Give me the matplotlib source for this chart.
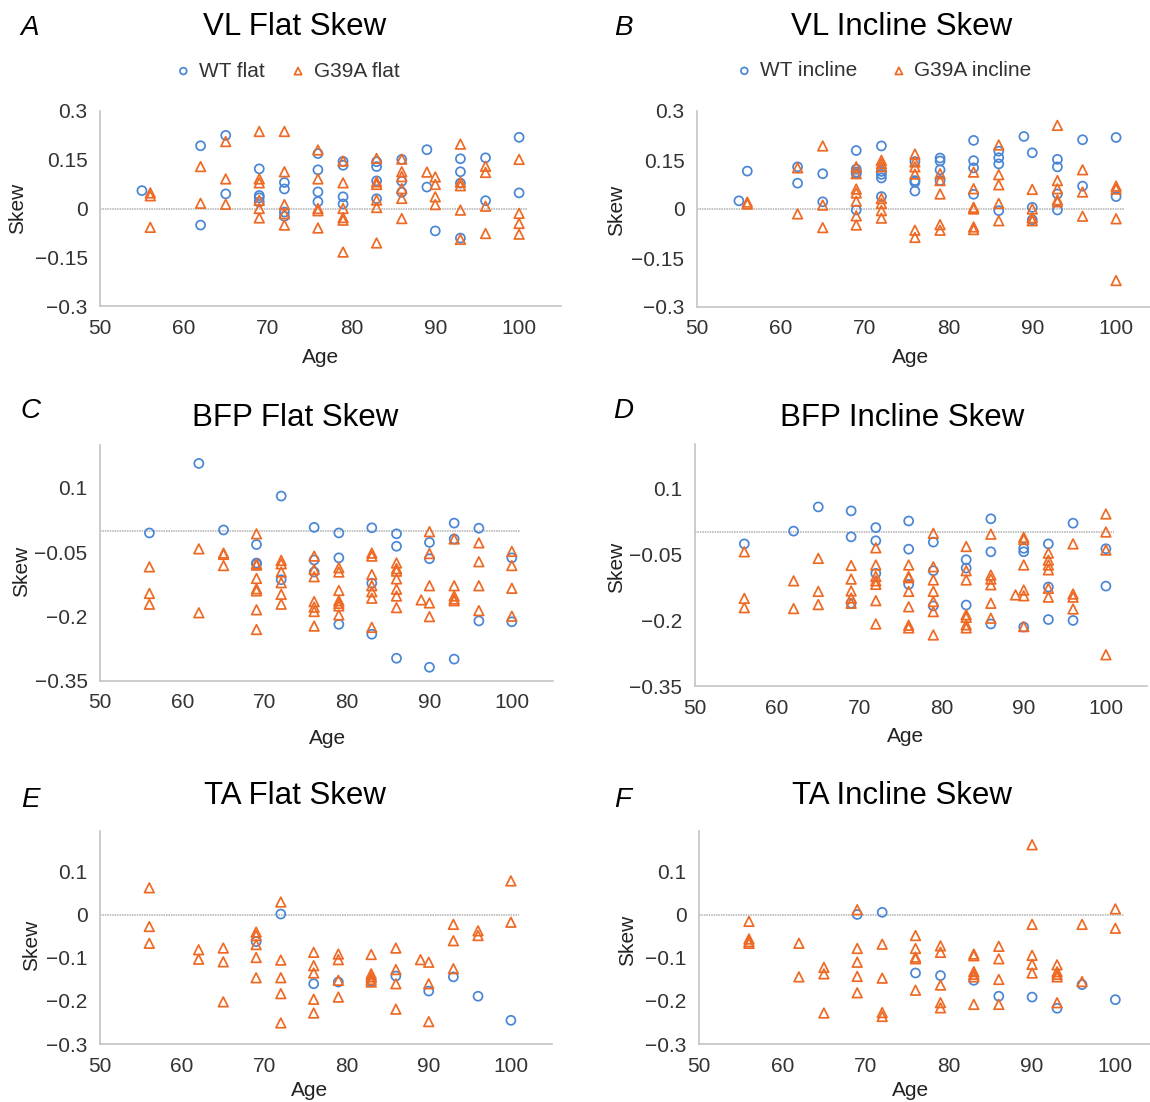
import numpy as np
import matplotlib
matplotlib.use("Agg")
import matplotlib.pyplot as plt
from matplotlib.ticker import FuncFormatter

plt.rcParams['font.family'] = ['Liberation Sans', 'DejaVu Sans']

W, H = 1150, 1102

# skew values read per age, {age: [skew, ...]}
vl_flat_wt = {55: [0.055], 62: [0.193, -0.051], 65: [0.225, 0.045],
              69: [0.122, 0.040, 0.033, 0.020], 72: [0.080, 0.060, -0.011, -0.024],
              76: [0.169, 0.119, 0.051, 0.021], 79: [0.145, 0.133, 0.036, 0.014],
              83: [0.144, 0.129, 0.085, 0.030], 86: [0.151, 0.084, 0.050],
              89: [0.181, 0.066], 90: [-0.069], 93: [0.153, 0.113, 0.078, -0.091],
              96: [0.156, 0.024], 100: [0.219, 0.048]}
vl_flat_g39a = {56: [0.048, 0.039, -0.058], 62: [0.129, 0.016], 65: [0.206, 0.091, 0.013],
                69: [0.237, 0.091, 0.079, 0.025, 0.0, -0.029],
                72: [0.237, 0.113, 0.012, -0.016, -0.051],
                76: [0.180, 0.091, 0.0, -0.007, -0.060],
                79: [0.146, 0.079, 0.0, -0.028, -0.036, -0.134],
                83: [0.154, 0.082, 0.074, 0.026, 0.003, -0.106],
                86: [0.152, 0.113, 0.098, 0.061, 0.031, -0.031],
                89: [0.112], 90: [0.097, 0.074, 0.036, 0.012],
                93: [0.198, 0.081, 0.070, -0.005, -0.095],
                96: [0.130, 0.111, 0.007, -0.077], 100: [0.151, -0.015, -0.046, -0.079]}

vl_incl_wt = {55: [0.025], 56: [0.116], 62: [0.129, 0.079], 65: [0.108, 0.022],
              69: [0.179, 0.122, 0.113, 0.108, -0.003],
              72: [0.193, 0.115, 0.106, 0.095, 0.038],
              76: [0.145, 0.087, 0.082, 0.055], 79: [0.156, 0.147, 0.120, 0.087],
              83: [0.210, 0.148, 0.126, 0.045], 86: [0.177, 0.157, 0.138, -0.005],
              89: [0.222], 90: [0.172, 0.005, -0.033],
              93: [0.152, 0.129, 0.046, -0.003], 96: [0.212, 0.070], 100: [0.219, 0.038]}
vl_incl_g39a = {56: [0.021, 0.015], 62: [0.126, -0.015], 65: [0.193, 0.012, -0.057],
                69: [0.129, 0.108, 0.061, 0.049, 0.024, -0.021, -0.049],
                72: [0.149, 0.139, 0.129, 0.032, 0.017, -0.005, -0.028],
                76: [0.168, 0.144, 0.129, 0.107, -0.065, -0.087],
                79: [0.108, 0.087, 0.046, -0.048, -0.065],
                83: [0.113, 0.062, 0.005, 0.0, -0.055, -0.063],
                86: [0.196, 0.105, 0.074, 0.017, -0.036],
                90: [0.060, 0.0, -0.027, -0.036],
                93: [0.256, 0.087, 0.062, 0.028, 0.022],
                96: [0.120, 0.052, -0.022], 100: [0.070, 0.061, -0.030, -0.219]}

bfp_flat_wt = {56: [-0.005], 62: [0.157], 65: [0.002], 69: [-0.032, -0.075, -0.077],
               72: [0.081, -0.114], 76: [0.008, -0.068, -0.096], 79: [-0.005, -0.063, -0.218],
               83: [0.007, -0.122, -0.241], 86: [-0.007, -0.036, -0.297],
               90: [-0.027, -0.065, -0.318], 93: [0.018, -0.019, -0.299],
               96: [0.006, -0.210], 100: [-0.063, -0.212]}
bfp_flat_g39a = {56: [-0.084, -0.146, -0.171], 62: [-0.042, -0.191], 65: [-0.052, -0.055, -0.081],
                 69: [-0.007, -0.077, -0.080, -0.111, -0.135, -0.140, -0.184, -0.230],
                 72: [-0.069, -0.077, -0.096, -0.121, -0.148, -0.171],
                 76: [-0.059, -0.090, -0.107, -0.165, -0.178, -0.188, -0.222],
                 79: [-0.086, -0.096, -0.139, -0.163, -0.169, -0.175, -0.196],
                 83: [-0.052, -0.059, -0.102, -0.128, -0.142, -0.157, -0.225],
                 86: [-0.075, -0.088, -0.094, -0.112, -0.136, -0.152, -0.179],
                 89: [-0.161], 90: [-0.002, -0.053, -0.128, -0.168, -0.200],
                 93: [-0.019, -0.128, -0.152, -0.159, -0.163],
                 96: [-0.028, -0.072, -0.128, -0.186], 100: [-0.048, -0.081, -0.134, -0.199]}

bfp_incl_wt = {56: [-0.027], 62: [0.002], 65: [0.057], 69: [0.048, -0.011, -0.162],
               72: [0.010, -0.020, -0.094], 76: [0.025, -0.039, -0.119],
               79: [-0.023, -0.088, -0.168], 83: [-0.063, -0.082, -0.166],
               86: [0.030, -0.045, -0.209], 90: [-0.037, -0.045, -0.216],
               93: [-0.027, -0.125, -0.199], 96: [0.020, -0.201], 100: [-0.038, -0.123]}
bfp_incl_g39a = {56: [-0.045, -0.151, -0.172], 62: [-0.111, -0.174], 65: [-0.060, -0.135, -0.165],
                 69: [-0.076, -0.107, -0.134, -0.150, -0.162],
                 72: [-0.036, -0.075, -0.101, -0.111, -0.119, -0.156, -0.209],
                 76: [-0.075, -0.101, -0.104, -0.135, -0.170, -0.212, -0.218],
                 79: [-0.003, -0.079, -0.109, -0.135, -0.158, -0.181, -0.234],
                 83: [-0.033, -0.088, -0.109, -0.188, -0.194, -0.211, -0.218],
                 86: [-0.005, -0.098, -0.107, -0.120, -0.162, -0.196],
                 89: [-0.143], 90: [-0.012, -0.017, -0.075, -0.132, -0.145, -0.215],
                 93: [-0.048, -0.064, -0.075, -0.086, -0.128, -0.148],
                 96: [-0.027, -0.141, -0.148, -0.175], 100: [0.041, 0.0, -0.041, -0.279]}

ta_flat_wt = {69: [-0.062], 72: [0.002], 76: [-0.160], 79: [-0.156], 83: [-0.154],
              86: [-0.142], 90: [-0.177], 93: [-0.144], 96: [-0.189], 100: [-0.245]}
ta_flat_g39a = {56: [0.063, -0.027, -0.066], 62: [-0.081, -0.103], 65: [-0.077, -0.109, -0.202],
                69: [-0.040, -0.048, -0.069, -0.099, -0.146],
                72: [0.030, -0.105, -0.146, -0.183, -0.251],
                76: [-0.087, -0.118, -0.135, -0.196, -0.228],
                79: [-0.091, -0.104, -0.152, -0.191],
                83: [-0.092, -0.137, -0.144, -0.150, -0.156],
                86: [-0.077, -0.127, -0.160, -0.219], 89: [-0.104],
                90: [-0.110, -0.160, -0.248], 93: [-0.022, -0.060, -0.125],
                96: [-0.037, -0.048], 100: [0.079, -0.017]}

ta_incl_wt = {69: [0.001], 72: [0.006], 76: [-0.135], 79: [-0.141], 83: [-0.152],
              86: [-0.189], 90: [-0.191], 93: [-0.217], 96: [-0.162], 100: [-0.197]}
ta_incl_g39a = {56: [-0.015, -0.056, -0.062, -0.066], 62: [-0.066, -0.144],
                65: [-0.122, -0.137, -0.228], 69: [0.012, -0.078, -0.110, -0.143, -0.181],
                72: [-0.068, -0.147, -0.227, -0.236],
                76: [-0.048, -0.078, -0.098, -0.102, -0.175],
                79: [-0.072, -0.087, -0.163, -0.204, -0.216],
                83: [-0.091, -0.095, -0.132, -0.138, -0.144, -0.208],
                86: [-0.073, -0.102, -0.150, -0.208],
                90: [0.163, -0.022, -0.094, -0.115, -0.135],
                93: [-0.116, -0.132, -0.138, -0.144, -0.204],
                96: [-0.022, -0.155], 100: [0.014, -0.031]}

titles = ["VL Flat Skew", "VL Incline Skew", "BFP Flat Skew",
          "BFP Incline Skew", "TA Flat Skew", "TA Incline Skew"]
letters = ["A", "B", "C", "D", "E", "F"]
x_ticks = [50, 60, 70, 80, 90, 100]
vl_ticks = [-0.3, -0.15, 0, 0.15, 0.3]
bfp_ticks = [-0.35, -0.2, -0.05, 0.1]
ta_ticks = [-0.3, -0.2, -0.1, 0, 0.1]

BLUE = '#4a86d6'
ORANGE = '#ee6a24'


def flat(d):
    xs, ys = [], []
    for age, vals in d.items():
        for v in vals:
            xs.append(age)
            ys.append(v)
    return np.array(xs), np.array(ys)


def fx(x):
    return x / W


def fy(y):
    return 1 - y / H


def fmt(v, pos):
    s = f"{round(v, 3):g}"
    if s == "-0":
        s = "0"
    return s.replace('-', '\u2212')


fig = plt.figure(figsize=(W / 100, H / 100), dpi=100)

# axes boxes in pixels: left, top, right, bottom
boxes = [(100, 111, 561, 306), (697, 111, 1158, 307),
         (100, 445, 553, 681), (695, 444, 1147, 686),
         (100, 831, 552, 1044), (699, 831, 1157, 1044)]
series = [(vl_flat_wt, vl_flat_g39a), (vl_incl_wt, vl_incl_g39a),
          (bfp_flat_wt, bfp_flat_g39a), (bfp_incl_wt, bfp_incl_g39a),
          (ta_flat_wt, ta_flat_g39a), (ta_incl_wt, ta_incl_g39a)]
ylims = [(-0.3, 0.3), (-0.3, 0.3), (-0.35, 0.2), (-0.35, 0.2), (-0.3, 0.195), (-0.3, 0.195)]
yticks = [vl_ticks, vl_ticks, bfp_ticks, bfp_ticks, ta_ticks, ta_ticks]
title_pos = [(295, 27), (902, 27), (295, 418), (902, 418), (295, 796), (902, 796)]
letter_pos = [(30, 28), (623, 28), (30, 411), (623, 411), (30, 800), (623, 800)]
xlab_pos = [(321, 357), (911, 357), (328, 738), (906, 737), (310, 1090), (911, 1090)]
ylab_pos = [(18, 208), (617, 210), (22, 571), (617, 567), (32, 945), (628, 940)]
legend_names = [("WT flat", "G39A flat"), ("WT incline", "G39A incline")]
legend_x = [(175 - 100) / 461, (736 - 697) / 461]
legend_gap = [1.2, 1.6]

for i in range(6):
    l, t, r, b = boxes[i]
    ax = fig.add_axes([fx(l), fy(b), (r - l) / W, (b - t) / H])
    wt, g = series[i]
    wx, wy = flat(wt)
    gx, gy = flat(g)
    ax.axhline(0, xmin=0, xmax=(101 - 50) / 55, color='#b0b0b0', lw=1.1, ls=(0, (1, 0.6)), zorder=1)
    h1 = ax.scatter(wx, wy, s=42, marker='o', facecolors='none', edgecolors=BLUE, linewidths=1.25, zorder=3)
    h2 = ax.scatter(gx, gy, s=48, marker='^', facecolors='none', edgecolors=ORANGE, linewidths=1.25, zorder=3)
    ax.set_xlim(50, 105)
    ax.set_ylim(*ylims[i])
    ax.set_xticks(x_ticks)
    ax.set_yticks(yticks[i])
    ax.yaxis.set_major_formatter(FuncFormatter(fmt))
    ax.tick_params(length=0, labelsize=15, labelcolor='#333333', pad=9)
    for sp in ['top', 'right']:
        ax.spines[sp].set_visible(False)
    for sp in ['left', 'bottom']:
        ax.spines[sp].set_color('#c4c4c4')
        ax.spines[sp].set_linewidth(1.2)
    ax.set_facecolor('none')

    ax.set_xlabel("Age", fontsize=15, color='#222222')
    ax.xaxis.label.set_va('center')
    ax.xaxis.set_label_coords(fx(xlab_pos[i][0]), fy(xlab_pos[i][1]), transform=fig.transFigure)
    ax.set_ylabel("Skew", fontsize=15, color='#222222')
    ax.yaxis.label.set_va('center')
    ax.yaxis.set_label_coords(fx(ylab_pos[i][0]), fy(ylab_pos[i][1]), transform=fig.transFigure)

    fig.text(fx(title_pos[i][0]), fy(title_pos[i][1]), titles[i], fontsize=22.5,
             ha='center', va='center', color='black')
    fig.text(fx(letter_pos[i][0]), fy(letter_pos[i][1]), letters[i], fontsize=20,
             style='italic', ha='center', va='center', color='black')

    if i < 2:
        ax.legend([h1, h2], legend_names[i], ncol=2, frameon=False, fontsize=15,
                  loc='center left', bbox_to_anchor=(legend_x[i], 1.205),
                  handletextpad=0.35, handlelength=0.8, borderpad=0, borderaxespad=0,
                  columnspacing=legend_gap[i], labelcolor='#333333', markerscale=0.75)

fig.savefig("out.png", dpi=100)
